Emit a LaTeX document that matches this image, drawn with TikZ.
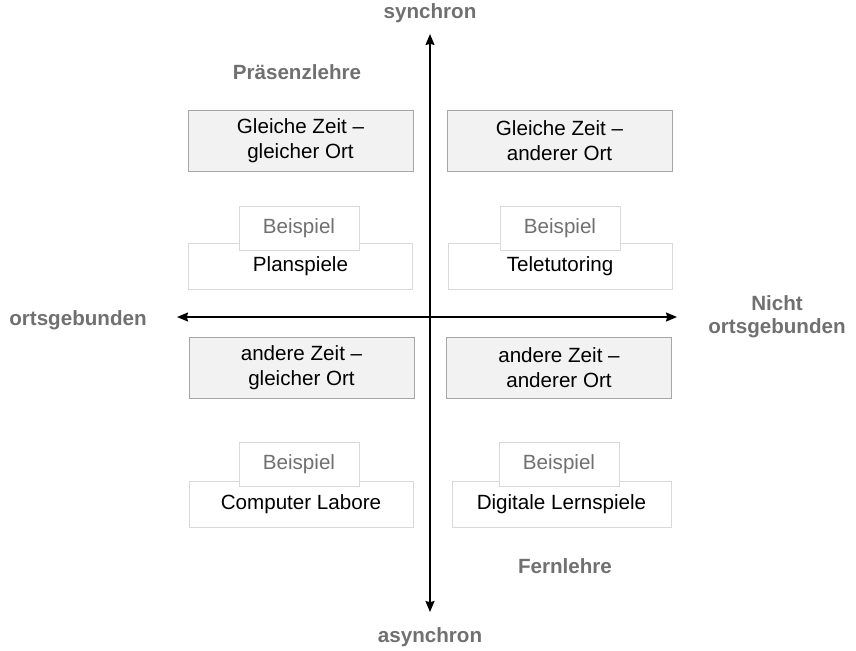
\documentclass[tikz,border=0pt]{standalone}
\usepackage{fontspec}
\setmainfont{Liberation Sans}
\usepackage{tikz}
\usetikzlibrary{arrows.meta, positioning}
\definecolor{qgray}{RGB}{112,112,112}
\definecolor{qfill}{RGB}{242,242,242}
\definecolor{qline}{RGB}{166,166,166}
\definecolor{qlight}{RGB}{217,217,217}

\begin{document}
\begin{tikzpicture}[x=0.5pt, y=-0.5pt,
  every node/.style={font=\fontsize{10.3}{12.4}\selectfont},
  zeitbox/.style={draw=qline, fill=qfill, line width=0.5pt, minimum width=112.5pt,
              minimum height=30.5pt, align=center, inner sep=0pt},
  bspbox/.style={draw=qlight, fill=white, line width=0.5pt, minimum width=112pt,
              minimum height=23pt, align=center, inner sep=0pt},
  bsptab/.style={draw=qlight, fill=white, line width=0.5pt, minimum width=60pt,
              minimum height=22pt, text=qgray, inner sep=0pt},
  achse/.style={font=\fontsize{10.3}{11.5}\selectfont\bfseries, text=qgray, align=center}]
  \useasboundingbox (0,0) rectangle (856,650);

  % Quadrant oben links
  \node[zeitbox] (zol) at (300.5,140.5) {Gleiche Zeit --\\gleicher Ort};
  \node[bspbox] (bol) at (300.5,266) {Planspiele};
  \node[bsptab] (tol) at (299,228) {Beispiel};

  % Quadrant oben rechts
  \node[zeitbox] (zor) at (559.5,140.5) {Gleiche Zeit --\\anderer Ort};
  \node[bspbox] (bor) at (560,266) {Teletutoring};
  \node[bsptab] (tor) at (560,228) {Beispiel};

  % Quadrant unten links
  \node[zeitbox] (zul) at (301.5,367.5) {andere Zeit --\\gleicher Ort};
  \node[bspbox] (bul) at (301,504.5) {Computer Labore};
  \node[bsptab] (tul) at (299,464.5) {Beispiel};

  % Quadrant unten rechts
  \node[zeitbox] (zur) at (559,368) {andere Zeit --\\anderer Ort};
  \node[bspbox, minimum width=109.5pt] (bur) at (561.5,504.5) {Digitale Lernspiele};
  \node[bsptab] (tur) at (559,464.5) {Beispiel};

  % Achsen
  \coordinate (oben) at (430,34);
  \coordinate (unten) at (430,612);
  \coordinate (links) at (177,317);
  \coordinate (rechts) at (677,317);
  \draw[{Stealth[length=5.5pt, width=4.5pt, inset=0.6pt]}-{Stealth[length=5.5pt, width=4.5pt, inset=0.6pt]},
    line width=0.75pt] (oben) -- (unten);
  \draw[{Stealth[length=5.5pt, width=4.5pt, inset=0.6pt]}-{Stealth[length=5.5pt, width=4.5pt, inset=0.6pt]},
    line width=0.75pt] (links) -- (rechts);

  % Beschriftungen
  \node[achse] (syn) at (430,13) {synchron};
  \node[achse] (asyn) at (430,637) {asynchron};
  \node[achse] (orts) at (78,320) {ortsgebunden};
  \node[achse] (nicht) at (777,317) {Nicht\\ortsgebunden};
  \node[achse] (praes) at (297,72) {Präsenzlehre};
  \node[achse] (fern) at (565,566) {Fernlehre};
\end{tikzpicture}
\end{document}
